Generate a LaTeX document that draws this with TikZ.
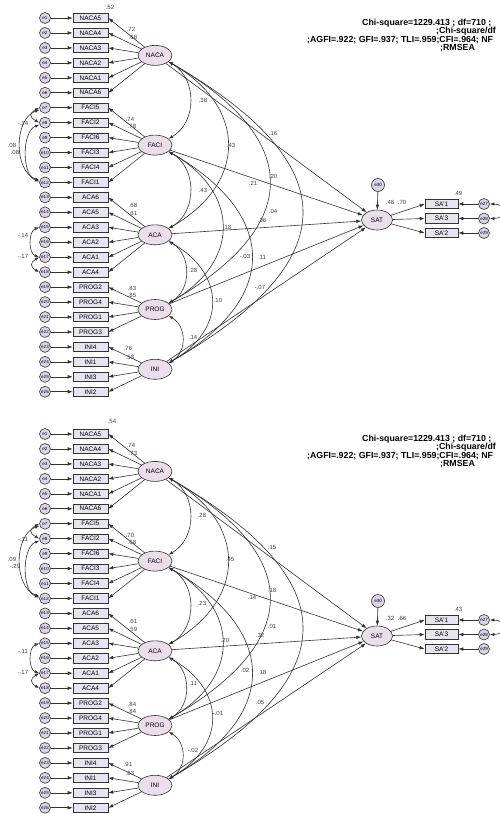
\documentclass[tikz,border=0pt]{standalone}
\usepackage{fontspec}
\setmainfont{Liberation Sans}
\usetikzlibrary{arrows.meta,shapes.geometric}
\definecolor{semline}{HTML}{333333}
\definecolor{semerr}{HTML}{DAD3EA}
\definecolor{semobs}{HTML}{E7E4F2}
\definecolor{semlat}{HTML}{ECDDEC}
\tikzset{
  errcirc/.style={circle, draw=semline, fill=semerr, line width=0.6pt, minimum size=11pt, inner sep=0pt, font=\fontsize{4.5}{5}\selectfont},
  obsbox/.style={rectangle, draw=semline, fill=semobs, line width=0.6pt, minimum width=35pt, minimum height=9.5pt, inner sep=0pt, font=\fontsize{6.5}{7}\selectfont},
  latell/.style={ellipse, draw=semline, fill=semlat, line width=0.6pt, minimum width=34pt, minimum height=20pt, inner sep=0pt, font=\fontsize{6.5}{7}\selectfont},
  arrow/.style={-{Latex[length=5pt,width=3.6pt]}, line width=0.6pt, draw=semline},
  covarrow/.style={{Latex[length=4.5pt,width=3.2pt]}-{Latex[length=4.5pt,width=3.2pt]}, line width=0.6pt, draw=semline},
  est/.style={inner sep=0pt, font=\fontsize{6}{6}\selectfont, text=black!75},
  fitline/.style={inner sep=0pt, anchor=base west, font=\bfseries\fontsize{8.8}{8.8}\selectfont}
}

\begin{document}
\begin{tikzpicture}[x=1pt,y=-1pt]
\useasboundingbox (0,0) rectangle (500,814);
\fill[white] (0,0) rectangle (500,814);
\clip (0,0) rectangle (500,814);

% the same model, drawn twice
\foreach \pn/\oy in {1/0,2/416}{
\begin{scope}[shift={(0,\oy)}]
  % indicators with their errors
  \foreach \nm [count=\i] in {NACA5,NACA4,NACA3,NACA2,NACA1,NACA6,FACI5,FACI2,FACI6,FACI3,FACI4,FACI1,ACA6,ACA5,ACA3,ACA2,ACA1,ACA4,PROG2,PROG4,PROG1,PROG3,INI4,INI1,INI3,INI2}{
    \node[errcirc] (e\pn-\i) at (45,{18+14.95*(\i-1)}) {e\i};
    \node[obsbox] (x\pn-\i) at (90.5,{18+14.95*(\i-1)}) {\nm};
    \draw[arrow] (e\pn-\i) -- (x\pn-\i);
  }
  % latent factors
  \foreach \lv/\ly in {NACA/55.4,FACI/145.1,ACA/234.8,PROG/309.5,INI/369.3}
    \node[latell] (\lv\pn) at (155,\ly) {\lv};
  \foreach \lv/\a/\b in {NACA/1/6,FACI/7/12,ACA/13/18,PROG/19/22,INI/23/26}
    \foreach \i in {\a,...,\b}
      \draw[arrow] (\lv\pn) -- (x\pn-\i.east);

  % outcome
  \node[latell, minimum width=31pt] (sat\pn) at (377,220) {SAT};
  \node[errcirc, minimum size=13pt] (z\pn) at (378,185) {e30};
  \draw[arrow] (z\pn) -- (sat\pn);
  \foreach \nm/\ry [count=\j] in {SA'1/204,SA'3/218.5,SA'2/233}{
    \pgfmathtruncatemacro\rn{26+\j}
    \node[obsbox, minimum width=33pt] (y\pn-\j) at (441.5,\ry) {\nm};
    \node[errcirc] (r\pn-\j) at (484,\ry) {e\rn};
    \draw[arrow] (sat\pn) -- (y\pn-\j.west);
    \draw[arrow] (r\pn-\j) -- (y\pn-\j);
  }
  \foreach \lv in {NACA,FACI,ACA,PROG,INI}
    \draw[arrow] (\lv\pn) -- (sat\pn);

  % covariances
  \foreach \a/\b/\lo in {NACA/FACI/1.1,NACA/ACA/1.4,NACA/PROG/1.65,NACA/INI/1.75,FACI/ACA/1.1,FACI/PROG/1.4,FACI/INI/1.55,ACA/PROG/1.1,ACA/INI/1.4,PROG/INI/1.15}
    \draw[covarrow] (\a\pn.-25) to[out=-30,in=30,looseness=\lo] (\b\pn.25);
  \draw[covarrow] (e\pn-7.west) to[out=210,in=150,looseness=2] (e\pn-8.west);
  \draw[covarrow] (e\pn-7.200) to[out=200,in=160,looseness=1] (e\pn-12.160);
  \draw[covarrow] (e\pn-8.200) to[out=200,in=160,looseness=0.85] (e\pn-12.170);
  \draw[covarrow] (e\pn-15.west) to[out=200,in=160,looseness=1] (e\pn-17.west);
  \draw[covarrow] (e\pn-17.west) to[out=210,in=150,looseness=1.8] (e\pn-18.west);
  \draw[covarrow] (r\pn-1.east) to[out=0,in=0,looseness=3] (r\pn-2.east);

  % fit indices
  \node[fitline] (chi\pn) at (362,25) {Chi-square=1229.413 ; df=710 ;};
  \node[fitline] (cdf\pn) at (436,33.5) {;Chi-square/df};
  \node[fitline] (gfi\pn) at (307,42) {;AGFI=.922; GFI=.937; TLI=.959;CFI=.964; NF};
  \node[fitline] (rms\pn) at (440,50.5) {;RMSEA};
\end{scope}
}

% estimates, upper model
\foreach \val/\lx/\ly [count=\k] in {.38/203/100,.43/231/145,.21/253/183,.04/273/211,.43/203/190,.18/227/227,-.03/245/256,.28/193/270,.10/218/300,.14/193/337,
  .16/273/133,.20/273/176,.36/262/220,.11/262/257,-.07/260/287,
  .52/110/7,.72/131/29,.68/133/37,.74/130/119,.78/132/126,.68/133/205,.61/133/213,.83/132/288,.85/132/295,.76/128/348,.58/130/357,
  .46/390/202,.70/402/202,.49/458/193,-.14/23/123,.08/12/145,.08/15/152,-.14/23/235,-.17/23/256}
  \node[est] (ua\k) at (\lx,\ly) {\val};

% estimates, lower model
\foreach \val/\lx/\ly [count=\k] in {.28/202/515,.45/230/559,.14/252/597,.01/272/626,.23/202/603,.20/225/640,.02/245/670,.11/193/683,-.01/218/713,-.02/193/750,
  .15/272/547,.18/272/590,.32/260/635,.18/262/672,.05/260/702,
  .54/112/421,.74/131/445,.73/133/453,.70/130/535,.68/132/542,.61/133/621,.59/133/629,.84/132/704,.84/132/711,.91/128/764,.83/130/773,
  .32/390/618,.66/402/618,.43/458/609,-.11/23/539,.09/12/559,-.29/15/566,-.11/23/651,-.17/23/672}
  \node[est] (la\k) at (\lx,\ly) {\val};
\end{tikzpicture}
\end{document}
